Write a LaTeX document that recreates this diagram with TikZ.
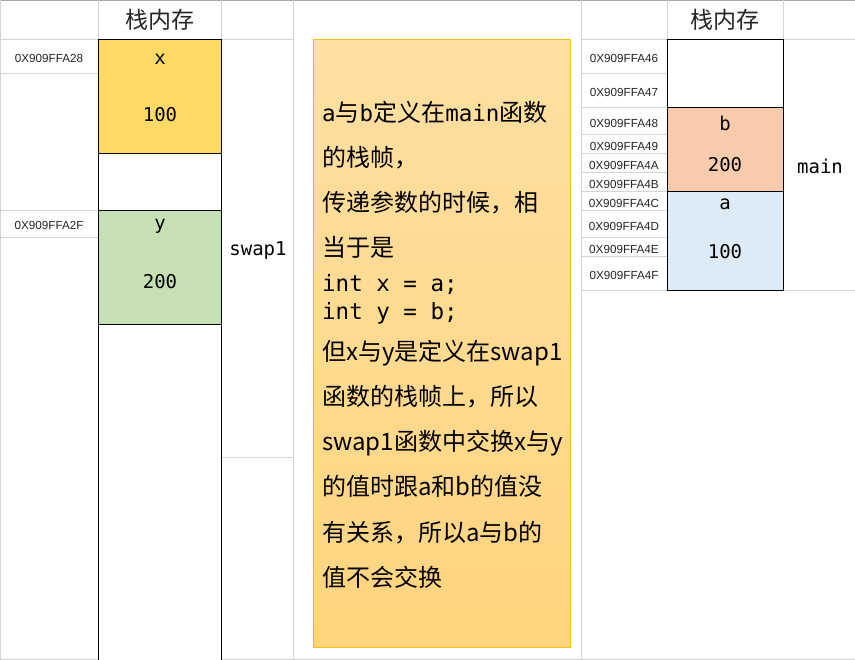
\documentclass[tikz,border=0pt]{standalone}
\usepackage{fontspec}
\setmainfont{Liberation Sans}
\setmonofont{DejaVu Sans Mono}
\newfontfamily\cjk{Noto Sans CJK SC}
\newfontfamily\addrfont{Liberation Sans}
\definecolor{gridc}{HTML}{D4D4D4}
\definecolor{topc}{HTML}{A6A6A6}
\definecolor{cellyellow}{HTML}{FFD966}
\definecolor{cellgreen}{HTML}{C6E0B4}
\definecolor{cellorange}{HTML}{F8CBAD}
\definecolor{cellblue}{HTML}{DDEBF7}
\definecolor{boxtop}{HTML}{FFE0A2}
\definecolor{boxbot}{HTML}{FFD47E}
\definecolor{boxline}{HTML}{F7BE1E}
\definecolor{addrc}{HTML}{262626}
\definecolor{hdrc}{HTML}{262626}
\newcommand\mm[1]{{\ttfamily\fontsize{22.5}{24}\selectfont #1}}
\tikzset{
  gridline/.style={draw=gridc, line width=1pt},
  blk/.style={draw=black, line width=1pt},
  addr/.style={font=\addrfont\fontsize{11.7}{12}\selectfont, text=addrc, inner sep=0pt},
  cellt/.style={font=\ttfamily\fontsize{19}{20}\selectfont, inner sep=0pt},
  hdr/.style={font=\cjk\fontsize{23}{24}\selectfont, text=hdrc, inner sep=0pt},
  note/.style={anchor=base west, inner sep=0pt, font=\cjk\fontsize{24}{25}\selectfont},
}
\begin{document}
\begin{tikzpicture}[x=1pt,y=-1pt]
\useasboundingbox (0,0) rectangle (855,660);
\fill[white] (0,0) rectangle (855,660);
% grid lines
\draw[draw=topc, line width=1.2pt] (0,0.6) -- (855,0.6);
\draw[gridline] (0,659.5) -- (855,659.5);
\draw[gridline] (0.5,0) -- (0.5,660);
\draw[gridline] (98,0) -- (98,40);
\draw[gridline] (221,0) -- (221,40);
\draw[gridline] (293,0) -- (293,660);
\draw[gridline] (581,0) -- (581,660);
\draw[gridline] (667,0) -- (667,40);
\draw[gridline] (783,0) -- (783,40);
\foreach \yy in {40,74,211,238} \draw[gridline] (0,\yy) -- (98,\yy);
\draw[gridline] (221,40) -- (293,40);
\draw[gridline] (221,458) -- (293,458);
\foreach \yy in {40,74,108,135,154,173,192,211,238,257,291} \draw[gridline] (581,\yy) -- (667,\yy);
\draw[gridline] (783,40) -- (855,40);
\draw[gridline] (783,291) -- (855,291);
% left stack cells
\draw[blk, fill=cellyellow] (98,40) rectangle (221,154);
\draw[blk, fill=white] (98,154) rectangle (221,211);
\draw[blk, fill=cellgreen] (98,211) rectangle (221,325);
\draw[blk, fill=white] (98,325) rectangle (221,661);
% right stack cells
\draw[blk, fill=white] (667,40) rectangle (783,108);
\draw[blk, fill=cellorange] (667,108) rectangle (783,192);
\draw[blk, fill=cellblue] (667,192) rectangle (783,291);
% note box
\draw[draw=boxline, line width=1pt, top color=boxtop, bottom color=boxbot] (313,40) rectangle (570,647);
% headers
\node[hdr] (h1) at (160,20) {栈内存};
\node[hdr] (h2) at (725,20) {栈内存};
% left addresses
\node[addr] (l28) at (49,58) {0X909FFA28};
\node[addr] (l2f) at (49,225) {0X909FFA2F};
% left cell texts
\node[cellt] (xn) at (160,59) {x};
\node[cellt] (xv) at (160,115) {100};
\node[cellt] (yn) at (160,226) {y};
\node[cellt] (yv) at (160,282) {200};
\node[cellt] (swap) at (258,251) {swap1};
% right addresses
\node[addr] (r46) at (624,58) {0X909FFA46};
\node[addr] (r47) at (624,92) {0X909FFA47};
\node[addr] (r48) at (624,123) {0X909FFA48};
\node[addr] (r49) at (624,146) {0X909FFA49};
\node[addr] (r4a) at (624,165) {0X909FFA4A};
\node[addr] (r4b) at (624,184) {0X909FFA4B};
\node[addr] (r4c) at (624,203) {0X909FFA4C};
\node[addr] (r4d) at (624,226) {0X909FFA4D};
\node[addr] (r4e) at (624,249) {0X909FFA4E};
\node[addr] (r4f) at (624,275) {0X909FFA4F};
% right cell texts
\node[cellt] (bn) at (725,123) {b};
\node[cellt] (bv) at (725,165) {200};
\node[cellt] (an) at (725,204) {a};
\node[cellt] (av) at (725,252) {100};
\node[cellt] (mainl) at (820,166) {main};
% note text
\node[note] (t1) at (322,122) {\mm{a}与\mm{b}定义在\mm{main}函数};
\node[note] (t2) at (322,167) {的栈帧，};
\node[note] (t3) at (322,212) {传递参数的时候，相};
\node[note] (t4) at (322,257) {当于是};
\node[note] (t5) at (322,292) {\mm{int x = a;}};
\node[note] (t6) at (322,320) {\mm{int y = b;}};
\node[note] (t7) at (322,361) {但x与y是定义在swap1};
\node[note] (t8) at (322,406) {函数的栈帧上，所以};
\node[note] (t9) at (322,451) {swap1函数中交换x与y};
\node[note] (t10) at (322,496) {的值时跟a和b的值没};
\node[note] (t11) at (322,541) {有关系，所以a与b的};
\node[note] (t12) at (322,586) {值不会交换};
\end{tikzpicture}
\end{document}
